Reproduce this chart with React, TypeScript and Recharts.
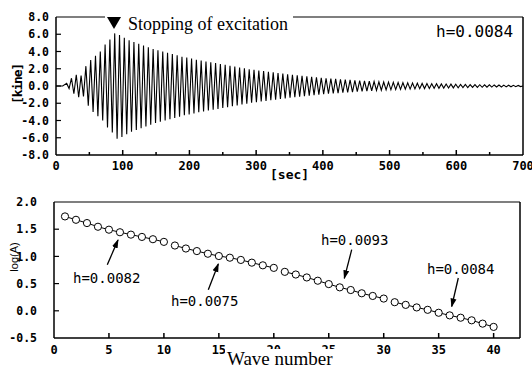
import React from 'react';
import { LineChart, Line, XAxis, YAxis, ReferenceLine } from 'recharts';

// ---------- top chart: free vibration record ----------
const firstPeakTime = 16; // sec
const cyclePeriod = 7.2; // sec
// amplitude of each cycle [kine], read from the envelope of the record
const cycleAmplitude = [
  0.3, 0.9, 1.3, 1.2, 2.3, 3.0, 3.5, 4.0, 4.8, 5.4,
  6.1, 5.9, 5.6, 5.3, 5.1, 4.9, 4.7, 4.5, 4.3, 4.15,
  4.0, 3.85, 3.7, 3.55, 3.4, 3.3, 3.2, 3.05, 2.95, 2.85,
  2.75, 2.65, 2.55, 2.45, 2.35, 2.25, 2.15, 2.05, 1.95, 1.87,
  1.8, 1.72, 1.65, 1.58, 1.5, 1.43, 1.36, 1.3, 1.24, 1.18,
  1.12, 1.06, 1.0, 0.95, 0.9, 0.86, 0.82, 0.78, 0.74, 0.7,
  0.66, 0.62, 0.58, 0.55, 0.52, 0.49, 0.46, 0.44, 0.42, 0.4,
  0.38, 0.36, 0.34, 0.32, 0.3, 0.29, 0.27, 0.26, 0.24, 0.23,
  0.22, 0.2, 0.19, 0.18, 0.17, 0.16, 0.15, 0.14, 0.13, 0.12,
  0.11, 0.1, 0.09, 0.08, 0.07,
];
const timeTicks = [0, 50, 100, 150, 200, 250, 300, 350, 400, 450, 500, 550, 600, 650, 700];
const velocityTicks = [-8, -6, -4, -2, 0, 2, 4, 6, 8];

// ---------- bottom chart: log amplitude vs wave number ----------
const waveA = [1, 2, 3, 4, 5, 6, 7, 8, 9, 10];
const logA_h0082 = [1.735, 1.673, 1.613, 1.545, 1.491, 1.444, 1.4, 1.358, 1.316, 1.267];
const waveB = [11, 12, 13, 14, 15, 16, 17, 18, 19, 20];
const logA_h0075 = [1.2, 1.145, 1.098, 1.049, 1.007, 0.976, 0.935, 0.885, 0.836, 0.789];
const waveC = [21, 22, 23, 24, 25, 26, 27, 28, 29, 30];
const logA_h0093 = [0.716, 0.667, 0.613, 0.553, 0.491, 0.431, 0.382, 0.322, 0.273, 0.225];
const waveD = [31, 32, 33, 34, 35, 36, 37, 38, 39, 40];
const logA_h0084 = [0.158, 0.109, 0.062, 0.018, -0.036, -0.084, -0.127, -0.175, -0.236, -0.296];
const waveTicks = [0, 5, 10, 15, 20, 25, 30, 35, 40];
const logTicks = [-0.5, 0, 0.5, 1, 1.5, 2];

const waveData: { t: number; v: number }[] = [{ t: 0, v: 0 }, { t: 10, v: 0 }];
cycleAmplitude.forEach((a, k) => {
  const t = firstPeakTime + k * cyclePeriod;
  waveData.push({ t, v: a });
  waveData.push({ t: t + cyclePeriod / 2, v: -a });
});
waveData.push({ t: 700, v: 0 });

const seg = (xs: number[], ys: number[]) => xs.map((n, i) => ({ n, y: ys[i] }));
const segments = [
  seg(waveA, logA_h0082),
  seg(waveB, logA_h0075),
  seg(waveC, logA_h0093),
  seg(waveD, logA_h0084),
];

const MONO = 'DejaVu Sans Mono';
const SERIF = 'Liberation Serif';

const TopXTick = (props: any) => {
  const { x, y, payload } = props;
  const v = payload.value;
  const major = v % 100 === 0;
  return (
    <g>
      {v !== 0 && v !== 700 && (
        <line x1={x} x2={x} y1={y} y2={y - (major ? 5 : 3)} stroke="#000" strokeWidth={1.5} />
      )}
      {major && (
        <text x={x} y={y + 15} textAnchor="middle" fontFamily={MONO} fontWeight="bold" fontSize={12} fill="#000">
          {v}
        </text>
      )}
    </g>
  );
};

const TopYTick = (props: any) => {
  const { x, y, payload } = props;
  const v = payload.value;
  return (
    <g>
      {Math.abs(v) !== 8 && <line x1={x} x2={x + 5} y1={y} y2={y} stroke="#000" strokeWidth={1.2} />}
      <text x={x - 7} y={y} dy="0.36em" textAnchor="end" fontFamily={MONO} fontWeight="bold" fontSize={11.5} fill="#000">
        {v.toFixed(1)}
      </text>
    </g>
  );
};

const BotXTick = (props: any) => {
  const { x, y, payload } = props;
  const v = payload.value;
  return (
    <g>
      {v !== 0 && <line x1={x} x2={x} y1={y} y2={y - 5} stroke="#000" strokeWidth={1.5} />}
      <text x={x} y={y + 16} textAnchor="middle" fontFamily={MONO} fontWeight="bold" fontSize={12} fill="#000">
        {v}
      </text>
    </g>
  );
};

const BotYTick = (props: any) => {
  const { x, y, payload } = props;
  const v = payload.value;
  return (
    <g>
      {v !== 2 && v !== -0.5 && <line x1={x} x2={x + 5} y1={y} y2={y} stroke="#000" strokeWidth={1.2} />}
      <text x={x - 17} y={y} dy="0.36em" textAnchor="end" fontFamily={MONO} fontWeight="bold" fontSize={11.5} fill="#000">
        {v.toFixed(1)}
      </text>
    </g>
  );
};

const CircleDot = (props: any) => {
  const { cx, cy, index } = props;
  if (cx == null || cy == null) return <g key={index} />;
  return <circle key={index} cx={cx} cy={cy} r={3.6} fill="#fff" stroke="#000" strokeWidth={1} />;
};

export default function App() {
  return (
    <div style={{ position: 'absolute', left: 0, top: 0, width: 532, height: 372, background: '#fff', overflow: 'hidden' }}>
      <div style={{ position: 'absolute', left: 0, top: 0 }}>
        <LineChart width={532} height={190} margin={{ top: 17, right: 9, bottom: 0, left: 0 }}>
          <XAxis
            type="number"
            dataKey="t"
            domain={[0, 700]}
            ticks={timeTicks}
            interval={0}
            height={35}
            tickSize={0}
            tickMargin={0}
            tickLine={false}
            axisLine={{ stroke: '#000', strokeWidth: 1.5 }}
            tick={<TopXTick />}
            allowDataOverflow
          />
          <YAxis
            type="number"
            domain={[-8, 8]}
            ticks={velocityTicks}
            interval={0}
            width={56}
            tickSize={0}
            tickMargin={0}
            tickLine={false}
            axisLine={{ stroke: '#000', strokeWidth: 1.5 }}
            tick={<TopYTick />}
            allowDataOverflow
          />
          <ReferenceLine y={8} stroke="#000" strokeWidth={1.2} />
          <ReferenceLine x={700} stroke="#000" strokeWidth={1.5} />
          <Line
            data={waveData}
            dataKey="v"
            type="linear"
            stroke="#000"
            strokeWidth={1.1}
            dot={false}
            isAnimationActive={false}
          />
        </LineChart>
      </div>
      <div style={{ position: 'absolute', left: 0, top: 190 }}>
        <LineChart width={532} height={182} margin={{ top: 12, right: 12, bottom: 0, left: 0 }}>
          <XAxis
            type="number"
            dataKey="n"
            domain={[0, 42.4]}
            ticks={waveTicks}
            interval={0}
            height={34}
            tickSize={0}
            tickMargin={0}
            tickLine={false}
            axisLine={{ stroke: '#000', strokeWidth: 1.5 }}
            tick={<BotXTick />}
            allowDataOverflow
          />
          <YAxis
            type="number"
            domain={[-0.5, 2]}
            ticks={logTicks}
            interval={0}
            width={54}
            tickSize={0}
            tickMargin={0}
            tickLine={false}
            axisLine={{ stroke: '#000', strokeWidth: 1.5 }}
            tick={<BotYTick />}
            allowDataOverflow
          />
          <ReferenceLine y={2} stroke="#000" strokeWidth={1.2} />
          <ReferenceLine x={42.4} stroke="#000" strokeWidth={1.5} />
          {segments.map((d, i) => (
            <Line
              key={i}
              data={d}
              dataKey="y"
              type="linear"
              stroke="#000"
              strokeWidth={1}
              dot={<CircleDot />}
              isAnimationActive={false}
            />
          ))}
        </LineChart>
      </div>
      <svg width={532} height={372} style={{ position: 'absolute', left: 0, top: 0, pointerEvents: 'none' }}>
        <defs>
          <marker id="ah" markerWidth="9" markerHeight="8" refX="8" refY="4" orient="auto" markerUnits="userSpaceOnUse">
            <path d="M0,1 L9,4 L0,7 z" fill="#000" />
          </marker>
        </defs>
        {/* top chart annotations */}
        <rect x={105} y={12} width={188} height={8} fill="#fff" />
        <polygon points="107,17 121,17 114,29" fill="#000" />
        <text x={128} y={30} fontFamily={SERIF} fontSize={18} fill="#000">Stopping of excitation</text>
        <text x={436} y={37} fontFamily={MONO} fontSize={16} fill="#000">h=0.0084</text>
        <text transform="translate(22,84) rotate(-90)" textAnchor="middle" fontFamily={MONO} fontWeight="bold" fontSize={13} letterSpacing={-1.2} fill="#000">[kine]</text>
        <text x={270} y={179} fontFamily={MONO} fontWeight="bold" fontSize={13} fill="#000">[sec]</text>
        {/* bottom chart annotations */}
        <text transform="translate(18,257) rotate(-90)" textAnchor="middle" fontFamily="Liberation Sans" fontSize={11} fill="#000">log(A)</text>
        <text x={73} y={283} fontFamily={MONO} fontSize={14} fill="#000">h=0.0082</text>
        <line x1={107.3} y1={264.7} x2={118} y2={240} stroke="#000" strokeWidth={1.3} markerEnd="url(#ah)" />
        <text x={171} y={306} fontFamily={MONO} fontSize={14} fill="#000">h=0.0075</text>
        <line x1={208.3} y1={289.7} x2={218.3} y2={264} stroke="#000" strokeWidth={1.3} markerEnd="url(#ah)" />
        <text x={321} y={245} fontFamily={MONO} fontSize={14} fill="#000">h=0.0093</text>
        <line x1={351.7} y1={249.7} x2={344.3} y2={278.3} stroke="#000" strokeWidth={1.3} markerEnd="url(#ah)" />
        <text x={427} y={274} fontFamily={MONO} fontSize={14} fill="#000">h=0.0084</text>
        <line x1={458.3} y1={278} x2={451.7} y2={306.5} stroke="#000" strokeWidth={1.3} markerEnd="url(#ah)" />
        <rect x={225} y={349} width={113} height={23} fill="#fff" />
        <text x={227} y={365} fontFamily={SERIF} fontSize={19} fill="#000">Wave number</text>
      </svg>
    </div>
  );
}
